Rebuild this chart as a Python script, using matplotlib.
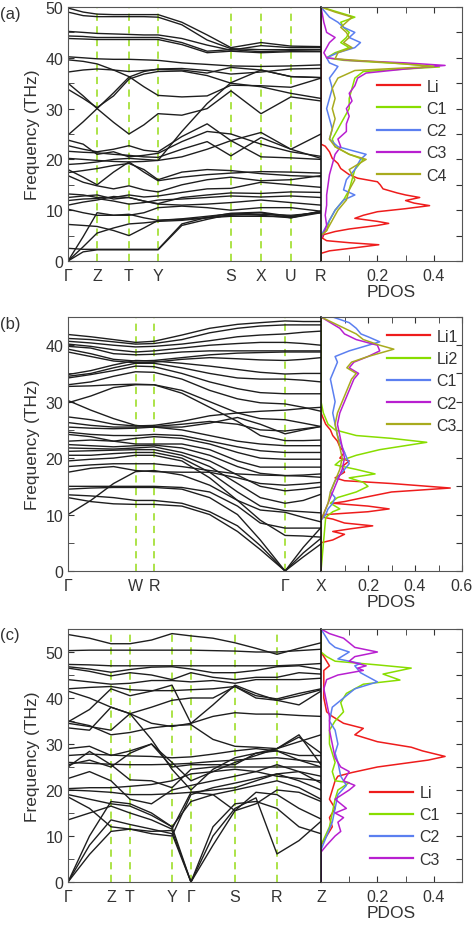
import matplotlib
matplotlib.use('Agg')
import matplotlib.pyplot as plt
from matplotlib.ticker import MultipleLocator

plt.rcParams['font.family'] = ['Liberation Sans', 'DejaVu Sans']

# ---------------- panel (a) ----------------
k_a = [0, 0.6, 1.15, 1.8, 2.41, 3.0, 3.56, 4.5, 5.5, 6.44, 7.63, 8.81, 10]
sym_pos_a = [0, 1.15, 2.41, 3.56, 6.44, 7.63, 8.81, 10]
sym_lab_a = ['Γ', 'Z', 'T', 'Y', 'S', 'X', 'U', 'R']
bands_a = [
    [49.8, 49.0, 48.6, 48.5, 48.5, 48.5, 48.5, 47.0, 44.5, 42.0, 43.0, 42.3, 42.2],
    [49.0, 48.3, 48.1, 48.1, 48.1, 48.1, 48.0, 46.5, 43.5, 41.8, 41.6, 41.6, 41.6],
    [45.2, 45.0, 44.8, 44.7, 44.6, 44.5, 44.5, 43.8, 42.5, 41.5, 42.4, 42.0, 42.0],
    [44.3, 44.2, 44.0, 44.0, 44.0, 44.0, 44.0, 43.0, 41.3, 41.6, 41.2, 41.4, 41.3],
    [43.8, 43.7, 43.6, 43.6, 43.6, 43.6, 43.6, 42.6, 41.0, 41.3, 41.0, 41.2, 41.2],
    [40.2, 40.0, 39.8, 39.7, 39.7, 39.6, 39.5, 39.0, 38.7, 38.4, 38.3, 38.4, 38.6],
    [39.6, 39.3, 38.8, 37.6, 36.3, 34.3, 32.6, 32.3, 32.5, 34.6, 34.5, 34.2, 36.0],
    [37.2, 37.6, 37.8, 37.6, 37.3, 37.5, 37.7, 37.6, 37.0, 38.1, 37.6, 36.3, 36.1],
    [24.8, 27.4, 30.0, 33.1, 36.2, 37.3, 37.8, 37.9, 37.5, 36.8, 37.2, 37.8, 37.9],
    [35.0, 32.5, 30.0, 27.3, 25.0, 26.8, 29.0, 28.7, 30.0, 33.5, 29.0, 32.3, 31.5],
    [33.8, 32.0, 30.2, 32.5, 35.8, 36.8, 37.3, 37.4, 36.5, 35.0, 34.3, 33.0, 32.0],
    [23.8, 23.0, 21.0, 21.5, 20.5, 20.8, 21.2, 23.5, 25.5, 25.0, 23.0, 21.5, 20.6],
    [22.7, 22.0, 21.5, 22.0, 22.7, 21.8, 21.5, 24.5, 27.0, 23.7, 20.5, 20.3, 20.0],
    [21.6, 21.4, 21.3, 21.0, 20.8, 20.5, 20.4, 22.0, 23.5, 20.7, 24.3, 22.0, 20.2],
    [20.2, 20.0, 19.8, 19.6, 19.5, 19.6, 19.8, 20.5, 22.0, 23.7, 25.3, 22.0, 25.0],
    [19.0, 19.2, 19.5, 20.0, 20.2, 20.0, 19.8, 25.5, 31.0, 35.1, 37.6, 36.3, 36.1],
    [18.0, 16.5, 15.0, 17.5, 19.5, 17.5, 15.8, 16.5, 17.0, 17.3, 17.6, 17.5, 17.3],
    [17.4, 17.8, 18.2, 18.8, 19.2, 18.0, 16.0, 17.5, 18.0, 17.8, 17.2, 16.8, 16.6],
    [16.8, 15.5, 14.8, 14.2, 14.8, 14.0, 13.6, 15.0, 16.0, 16.5, 15.8, 16.0, 16.8],
    [13.2, 13.0, 12.5, 12.5, 13.0, 12.6, 12.8, 13.5, 14.2, 14.3, 15.5, 15.0, 14.5],
    [12.5, 12.8, 13.0, 12.2, 12.5, 11.8, 11.3, 12.5, 13.0, 13.4, 13.3, 13.6, 13.5],
    [11.9, 12.2, 12.3, 11.8, 11.2, 11.5, 12.0, 12.2, 12.5, 12.8, 12.6, 12.8, 12.5],
    [11.0, 11.6, 12.0, 12.7, 12.5, 11.8, 11.2, 11.0, 11.2, 11.5, 12.0, 11.5, 11.0],
    [10.2, 9.5, 9.0, 9.0, 9.0, 9.5, 10.5, 10.8, 10.5, 10.0, 10.5, 10.5, 9.8],
    [7.2, 7.0, 6.8, 6.0, 5.0, 6.5, 8.0, 8.2, 8.5, 8.8, 8.8, 8.7, 9.8],
    [0.0, 4.8, 9.5, 9.0, 9.2, 8.5, 8.0, 8.3, 8.8, 9.3, 9.0, 8.5, 9.8],
    [0.0, 2.8, 5.5, 6.5, 7.3, 7.5, 7.8, 8.0, 8.5, 9.0, 9.2, 9.0, 9.5],
    [0.0, 1.8, 2.2, 2.2, 2.2, 2.2, 2.2, 7.0, 8.2, 9.2, 9.5, 8.5, 9.5],
    [2.5, 2.3, 2.3, 2.3, 2.3, 2.3, 2.3, 7.3, 8.6, 9.4, 9.6, 8.8, 9.7],
]

li_a_f = [0, 1.5, 2.0, 2.6, 3.2, 3.6, 4.0, 4.5, 5.2, 5.8, 6.3, 7.0, 7.4, 7.8, 8.4, 9.0, 9.7, 10.3,
          10.9, 11.4, 11.9, 12.5, 13.0, 13.4, 14.2, 15.0, 15.6, 16.3, 17.0, 18.2, 19.2, 20.2,
          21.5, 22.6, 23.0, 50]
li_a_d = [0, 0, 0.03, 0.12, 0.205, 0.1, 0.02, 0.005, 0.01, 0.05, 0.1, 0.2, 0.24, 0.2, 0.12, 0.15,
          0.2, 0.3, 0.385, 0.33, 0.3, 0.35, 0.3, 0.27, 0.22, 0.21, 0.2, 0.13, 0.1, 0.07, 0.06,
          0.04, 0.03, 0.015, 0, 0]
c1_a_f = [0, 5, 6, 8, 10, 12, 14, 16, 18, 20, 21, 22.5, 24, 26, 28, 30, 32, 34, 36, 37.3,
          38.2, 38.8, 39.5, 40, 41, 42, 43, 44, 45, 46, 47, 48, 49, 50]
c1_a_d = [0, 0, 0.02, 0.03, 0.05, 0.08, 0.1, 0.11, 0.12, 0.15, 0.1, 0.05, 0.04, 0.06, 0.08,
          0.1, 0.1, 0.11, 0.12, 0.15, 0.42, 0.3, 0.08, 0.02, 0.05, 0.1, 0.07, 0.09, 0.1, 0.08,
          0.07, 0.12, 0.06, 0]
c2_a_f = [0, 5, 6, 8, 10, 12, 13, 14, 16, 18, 20, 21, 22.5, 24, 26, 28, 30, 32, 34, 36, 37.5,
          38.3, 39, 40, 41, 42, 43, 44, 45, 46, 47, 48, 50]
c2_a_d = [0, 0, 0.01, 0.03, 0.05, 0.08, 0.12, 0.08, 0.09, 0.12, 0.14, 0.16, 0.06, 0.03, 0.04,
          0.03, 0.02, 0.03, 0.04, 0.03, 0.05, 0.06, 0.03, 0.02, 0.06, 0.12, 0.14, 0.1, 0.12,
          0.08, 0.06, 0.03, 0]
c3_a_f = [0, 4.5, 5.5, 7, 9, 11, 13, 15, 17, 19, 21, 22.5, 24, 25.5, 27, 28.5, 30, 31.5, 33,
          34.5, 36, 37, 37.8, 38.5, 39, 39.5, 40, 41, 43, 44, 45, 47, 50]
c3_a_d = [0, 0, 0.01, 0.02, 0.015, 0.02, 0.02, 0.025, 0.03, 0.04, 0.05, 0.07, 0.06, 0.09, 0.09,
          0.1, 0.09, 0.11, 0.1, 0.12, 0.13, 0.16, 0.3, 0.44, 0.3, 0.1, 0.02, 0.01, 0.03, 0.05,
          0.02, 0.01, 0]
c4_a_f = [0, 5, 6, 8, 10, 12, 14, 16, 18, 19, 20, 21, 22.5, 24, 26, 28, 30, 32, 34, 36, 37.5,
          38.3, 39, 39.8, 41, 42, 43, 44, 45, 46, 47, 48, 49, 50]
c4_a_d = [0, 0, 0.02, 0.04, 0.06, 0.09, 0.1, 0.12, 0.1, 0.13, 0.16, 0.1, 0.05, 0.03, 0.04, 0.05,
          0.04, 0.05, 0.04, 0.06, 0.12, 0.4, 0.25, 0.05, 0.06, 0.11, 0.08, 0.1, 0.09, 0.07,
          0.09, 0.11, 0.05, 0]

# ---------------- panel (b) ----------------
k_b = [0, 0.09, 0.18, 0.267, 0.34, 0.45, 0.56, 0.67, 0.76, 0.858, 0.93, 1.0]
sym_pos_b = [0, 0.267, 0.34, 0.858, 1.0]
sym_lab_b = ['Γ', 'W', 'R', 'Γ', 'X']
bands_b = [
    [41.9, 41.5, 41.0, 40.5, 40.7, 41.8, 43.0, 43.7, 44.0, 44.3, 44.2, 44.2],
    [41.2, 41.0, 40.6, 40.2, 40.3, 41.0, 42.2, 43.0, 43.4, 43.6, 43.6, 43.6],
    [40.7, 40.4, 40.0, 39.7, 39.8, 40.2, 40.8, 41.5, 41.8, 42.0, 42.3, 42.5],
    [40.2, 39.8, 39.2, 38.8, 39.0, 39.5, 40.0, 40.3, 40.5, 40.5, 40.3, 40.0],
    [39.8, 39.5, 38.5, 38.3, 38.4, 38.8, 39.0, 39.0, 39.0, 39.0, 39.0, 39.0],
    [39.3, 38.5, 37.5, 37.2, 37.3, 37.8, 38.3, 38.6, 38.7, 38.8, 38.8, 38.8],
    [38.8, 38.0, 37.2, 36.9, 37.0, 37.5, 37.8, 37.6, 37.4, 37.3, 37.5, 37.8],
    [34.8, 35.5, 36.5, 37.3, 37.2, 36.8, 36.3, 35.7, 35.2, 34.9, 35.0, 35.0],
    [34.5, 35.0, 36.0, 36.8, 36.8, 36.0, 35.0, 34.2, 34.0, 34.0, 33.8, 33.5],
    [34.2, 34.8, 35.5, 36.3, 36.2, 35.0, 33.5, 32.3, 31.6, 31.4, 31.4, 31.4],
    [33.0, 33.5, 34.5, 35.3, 35.2, 34.0, 32.0, 30.5, 29.8, 29.6, 29.0, 28.3],
    [32.7, 32.8, 33.0, 33.1, 33.0, 32.0, 30.0, 28.0, 27.0, 26.8, 26.2, 25.6],
    [29.8, 31.0, 32.5, 33.0, 33.0, 31.5, 29.0, 26.5, 24.0, 23.1, 23.1, 23.2],
    [30.2, 28.5, 27.0, 25.8, 25.5, 25.5, 26.2, 27.2, 26.0, 24.3, 25.0, 25.6],
    [27.3, 26.8, 26.0, 25.7, 25.8, 26.5, 27.5, 28.0, 28.3, 28.5, 28.8, 29.0],
    [26.3, 25.8, 25.5, 25.5, 25.6, 26.0, 26.5, 26.0, 25.0, 24.8, 25.2, 25.6],
    [25.5, 25.3, 25.2, 25.3, 25.5, 25.0, 24.0, 23.0, 22.5, 22.2, 22.2, 22.2],
    [24.6, 24.2, 24.0, 24.0, 24.2, 24.0, 23.0, 22.0, 21.3, 21.0, 21.0, 21.0],
    [24.2, 23.8, 23.0, 23.5, 23.8, 23.5, 22.5, 21.0, 20.0, 19.8, 19.8, 19.8],
    [23.0, 23.2, 23.0, 22.5, 22.5, 22.5, 21.5, 19.5, 18.4, 18.4, 18.4, 18.4],
    [22.4, 22.2, 22.0, 22.2, 22.3, 21.8, 20.5, 18.5, 17.3, 16.9, 17.0, 17.2],
    [21.8, 21.7, 21.6, 21.8, 22.0, 21.0, 19.5, 17.0, 15.0, 14.2, 14.5, 14.9],
    [21.2, 21.3, 21.4, 21.5, 21.5, 20.5, 18.5, 15.5, 13.0, 12.0, 12.5, 13.6],
    [20.5, 20.5, 20.8, 21.0, 21.0, 20.0, 17.5, 14.0, 11.5, 10.7, 10.5, 10.3],
    [19.5, 19.8, 20.0, 20.5, 20.5, 19.5, 16.5, 12.5, 9.0, 6.3, 6.2, 6.0],
    [18.5, 18.8, 19.0, 19.0, 19.0, 18.5, 17.8, 17.2, 17.0, 16.9, 16.8, 16.6],
    [17.5, 18.2, 18.5, 17.8, 17.6, 17.5, 17.5, 16.5, 15.5, 15.2, 15.4, 15.7],
    [10.0, 12.5, 15.5, 17.6, 17.8, 17.0, 15.2, 12.5, 10.8, 10.4, 9.5, 8.7],
    [15.0, 15.0, 15.0, 15.0, 15.0, 14.8, 14.0, 11.5, 8.5, 7.6, 7.6, 7.6],
    [14.5, 14.7, 14.8, 14.8, 14.8, 14.5, 13.0, 10.0, 5.5, 0.0, 2.5, 4.8],
    [13.5, 13.3, 13.0, 12.5, 12.5, 12.0, 10.5, 8.0, 4.5, 0.0, 3.2, 5.8],
    [13.0, 12.3, 11.9, 11.8, 11.8, 11.5, 10.0, 7.0, 3.8, 0.0, 4.2, 7.7],
]

li1_b_f = [0, 5, 5.5, 6.5, 7, 7.5, 8, 8.5, 9.2, 9.6, 10, 10.5, 11, 11.5, 12, 12.3, 13, 14, 14.7,
           15.5, 16, 16.5, 17.5, 18.5, 19.5, 20, 21, 22, 23, 24, 25, 26, 27, 28, 45]
li1_b_d = [0, 0, 0.05, 0.1, 0.05, 0.13, 0.22, 0.1, 0.05, 0.0, 0.02, 0.2, 0.29, 0.2, 0.05, 0.1,
           0.18, 0.3, 0.55, 0.3, 0.1, 0.06, 0.1, 0.09, 0.12, 0.08, 0.1, 0.08, 0.07, 0.05, 0.04,
           0.02, 0.01, 0, 0]
li2_b_f = [0, 9.5, 10.5, 11, 12, 13, 14, 15, 15.7, 16.5, 17.2, 18, 18.8, 19.5, 20.5, 21.5, 22.8,
           23.5, 24, 25, 26, 28, 30, 45]
li2_b_d = [0, 0.02, 0.05, 0.08, 0.04, 0.07, 0.15, 0.2, 0.18, 0.12, 0.23, 0.15, 0.06, 0.08, 0.15,
           0.25, 0.45, 0.3, 0.15, 0.06, 0.03, 0.01, 0, 0]
c1_b_f = [0, 9, 10, 11, 12, 13, 14, 15, 16, 17, 18, 19, 20, 21, 22, 24, 26, 28, 30, 32, 34, 36,
          37, 38, 39, 40.6, 41.5, 42, 43, 44, 45]
c1_b_d = [0, 0, 0.02, 0.03, 0.05, 0.06, 0.04, 0.05, 0.06, 0.08, 0.1, 0.12, 0.11, 0.1, 0.09,
          0.07, 0.06, 0.05, 0.06, 0.05, 0.04, 0.06, 0.07, 0.06, 0.12, 0.25, 0.2, 0.17, 0.15,
          0.12, 0.05]
c2_b_f = [0, 9, 10, 12, 14, 16, 18, 20, 22, 24, 26, 28, 30, 32, 34, 35, 36, 37, 38, 39, 40, 41,
          42, 43, 44, 45]
c2_b_d = [0, 0, 0.01, 0.03, 0.05, 0.07, 0.09, 0.1, 0.09, 0.08, 0.07, 0.08, 0.1, 0.12, 0.14,
          0.16, 0.12, 0.14, 0.2, 0.25, 0.24, 0.15, 0.1, 0.08, 0.04, 0]
c3_b_f = [0, 9, 10, 12, 14, 16, 18, 20, 22, 24, 26, 28, 30, 32, 34, 35, 36, 37, 38, 39.3, 40,
          41, 42, 43, 44, 45]
c3_b_d = [0, 0, 0.01, 0.03, 0.04, 0.06, 0.08, 0.09, 0.08, 0.07, 0.06, 0.07, 0.09, 0.11, 0.13,
          0.15, 0.11, 0.13, 0.2, 0.31, 0.25, 0.18, 0.15, 0.1, 0.05, 0]

# ---------------- panel (c) ----------------
k_c = [0, 0.085, 0.17, 0.245, 0.33, 0.411, 0.486, 0.573, 0.66, 0.743, 0.826, 0.913, 1.0]
sym_pos_c = [0, 0.17, 0.245, 0.411, 0.486, 0.66, 0.826, 1.0]
sym_lab_c = ['Γ', 'Z', 'T', 'Y', 'Γ', 'S', 'R', 'Z']
bands_c = [
    [53.8, 53.0, 51.8, 51.8, 52.6, 54.0, 53.5, 53.0, 52.0, 50.8, 49.5, 50.8, 52.0],
    [50.3, 50.4, 50.4, 50.4, 50.4, 50.4, 50.4, 50.3, 50.2, 50.0, 50.0, 50.3, 50.6],
    [47.3, 47.2, 47.0, 47.0, 47.0, 47.0, 47.0, 47.0, 47.0, 47.0, 47.0, 47.2, 47.5],
    [46.8, 46.3, 45.6, 46.2, 46.7, 46.8, 46.3, 45.5, 45.5, 46.0, 46.8, 47.0, 46.2],
    [46.5, 45.8, 44.8, 45.5, 45.0, 44.0, 45.5, 44.5, 44.0, 44.5, 44.5, 45.5, 45.2],
    [44.0, 43.5, 43.0, 43.2, 43.8, 43.8, 43.5, 43.8, 43.2, 44.0, 44.0, 44.0, 44.3],
    [42.0, 42.3, 42.5, 41.8, 41.6, 41.6, 41.8, 42.0, 42.5, 40.5, 39.8, 41.0, 42.0],
    [41.5, 40.0, 38.0, 36.6, 38.0, 39.5, 40.0, 40.0, 42.5, 40.0, 39.5, 40.5, 41.8],
    [34.8, 37.5, 42.0, 40.5, 41.5, 42.8, 34.5, 38.5, 42.8, 41.0, 39.5, 38.5, 41.5],
    [34.5, 33.8, 33.0, 36.6, 34.5, 33.8, 34.5, 36.0, 36.8, 36.5, 36.5, 36.2, 36.0],
    [35.0, 34.0, 32.0, 32.5, 33.5, 34.0, 34.2, 31.0, 29.5, 29.3, 29.0, 30.5, 32.0],
    [33.5, 33.0, 38.0, 36.6, 31.0, 24.5, 20.0, 24.5, 27.0, 28.0, 28.5, 26.5, 25.0],
    [29.0, 29.5, 27.5, 28.5, 30.0, 25.0, 25.5, 25.5, 25.5, 28.0, 29.0, 31.5, 28.0],
    [27.5, 27.8, 27.6, 27.4, 27.3, 27.0, 27.2, 27.8, 28.5, 29.0, 28.5, 27.5, 27.5],
    [26.0, 25.8, 25.6, 25.5, 25.5, 25.6, 25.8, 26.2, 26.5, 26.8, 27.0, 26.5, 26.0],
    [25.0, 28.4, 25.5, 22.2, 22.0, 20.5, 24.5, 25.0, 25.0, 25.0, 25.0, 25.0, 25.0],
    [25.5, 26.5, 25.0, 28.0, 30.0, 26.0, 22.0, 24.0, 26.0, 27.5, 29.0, 32.0, 25.5],
    [22.5, 24.0, 22.0, 18.0, 17.0, 20.0, 21.0, 22.0, 23.0, 24.0, 25.5, 24.0, 21.5],
    [20.3, 20.5, 20.5, 20.8, 21.2, 22.0, 23.5, 24.0, 24.5, 24.0, 23.0, 22.5, 22.0],
    [20.0, 19.8, 19.5, 19.0, 19.0, 19.2, 19.5, 20.0, 20.5, 22.0, 23.5, 22.0, 20.0],
    [19.0, 18.0, 17.0, 16.5, 14.5, 12.0, 17.5, 19.0, 20.0, 21.0, 22.0, 20.5, 18.0],
    [18.5, 16.0, 12.0, 11.5, 10.5, 10.0, 19.0, 20.5, 21.5, 22.5, 23.5, 24.0, 23.0],
    [13.5, 15.0, 16.5, 15.0, 13.5, 11.5, 19.5, 19.0, 15.5, 17.0, 20.0, 19.5, 17.5],
    [0.0, 10.0, 17.5, 17.0, 15.0, 12.0, 0.0, 8.0, 15.5, 19.5, 19.0, 16.0, 13.7],
    [0.0, 8.0, 13.5, 12.5, 11.5, 10.5, 0.0, 10.0, 16.0, 18.3, 6.1, 9.0, 13.2],
    [0.0, 6.0, 11.0, 11.5, 11.0, 11.2, 0.0, 12.0, 17.0, 17.5, 16.0, 12.0, 10.5],
]

li_c_f = [0, 8, 10, 12, 14, 16, 18, 20, 22, 23, 23.8, 25, 26.5, 27.3, 28.5, 29.3, 30.5, 32, 33.4,
          34.5, 36, 37, 40, 46, 47, 48, 50, 55]
li_c_d = [0, 0, 0.02, 0.04, 0.03, 0.05, 0.03, 0.04, 0.05, 0.06, 0.11, 0.2, 0.38, 0.44, 0.36,
          0.32, 0.2, 0.12, 0.15, 0.08, 0.04, 0.02, 0.01, 0.01, 0.03, 0.02, 0, 0]
c1_c_f = [0, 8, 12, 15, 18, 20, 21.6, 22, 24, 26, 28, 30, 33, 35, 37, 39, 41, 43, 43.9, 45.2,
          46.5, 47.2, 48, 49, 50, 55]
c1_c_d = [0, 0, 0.03, 0.04, 0.05, 0.06, 0.1, 0.05, 0.04, 0.05, 0.04, 0.03, 0.03, 0.05, 0.08,
          0.07, 0.09, 0.15, 0.28, 0.22, 0.32, 0.2, 0.05, 0.02, 0, 0]
c2_c_f = [0, 7, 10, 13, 16, 19, 21, 23, 26, 28, 30, 33, 35, 38, 40, 42, 43.5, 45.5, 47, 47.5,
          48.5, 50, 51, 52, 54, 55]
c2_c_d = [0, 0, 0.02, 0.04, 0.05, 0.06, 0.09, 0.07, 0.06, 0.05, 0.06, 0.05, 0.03, 0.04, 0.08,
          0.12, 0.2, 0.14, 0.12, 0.14, 0.06, 0.1, 0.05, 0.03, 0.01, 0]
c3_c_f = [0, 6.5, 8, 10, 11, 13, 14, 15, 16, 18, 20, 21, 22, 24, 25, 27, 30, 33, 36, 39, 42, 44,
          45, 46, 46.5, 47, 48, 49, 50, 51, 52, 53, 54, 55]
c3_c_d = [0, 0, 0.02, 0.05, 0.07, 0.06, 0.08, 0.05, 0.09, 0.05, 0.1, 0.12, 0.08, 0.1, 0.07, 0.05,
          0.04, 0.03, 0.03, 0.02, 0.01, 0.02, 0.06, 0.15, 0.13, 0.16, 0.1, 0.12, 0.2, 0.12, 0.1,
          0.08, 0.03, 0]

RED, GREEN, BLUE, PURPLE, OLIVE = '#ee1c1c', '#88dd00', '#5b7ff0', '#b81fd0', '#a8ab1e'
DASH = '#a6e03a'
BAND = '#1e1e1e'

W, H = 474, 928
fig = plt.figure(figsize=(W / 100, H / 100), dpi=100)


def rect(x0, x1, ytop, ybot):
    return [x0 / W, 1 - ybot / H, (x1 - x0) / W, (ybot - ytop) / H]


def panel(ytop, ybot, kpts, bands, sym_pos, sym_lab, ymax, pdos, pdos_max,
          pdos_labels, leg_anchor, tag):
    ax = fig.add_axes(rect(68, 321, ytop, ybot))
    ax2 = fig.add_axes(rect(321, 462, ytop, ybot))
    for b in bands:
        ax.plot(kpts, b, color=BAND, lw=1.0, solid_joinstyle='round')
    for p in sym_pos[1:-1]:
        ax.axvline(p, color=DASH, lw=1.3, ls=(0, (4, 3)), zorder=0)
    ax.set_xlim(sym_pos[0], sym_pos[-1])
    ax.set_ylim(0, ymax)
    ax.set_xticks(sym_pos)
    ax.set_xticklabels(sym_lab)
    ax.yaxis.set_major_locator(MultipleLocator(10))
    ax.yaxis.set_minor_locator(MultipleLocator(5))
    ax.tick_params(axis='x', length=0, labelsize=11.5, colors='#333333', pad=5)
    ax.tick_params(axis='y', which='both', direction='in', length=4, labelsize=11.5,
                   colors='#333333', right=False)
    ax.set_ylabel('Frequency (THz)', fontsize=12.5, color='#333333', labelpad=4)
    for s in ax.spines.values():
        s.set_color('#555555')

    for (f, d, c, lab) in pdos:
        ax2.plot(d, f, color=c, lw=1.1, label=lab)
    ax2.set_ylim(0, ymax)
    ax2.set_xlim(0, pdos_max)
    ax2.set_xticks(pdos_labels)
    ax2.set_xticklabels(['%.1f' % v for v in pdos_labels])
    ax2.xaxis.set_minor_locator(MultipleLocator(0.1))
    ax2.yaxis.set_major_locator(MultipleLocator(5))
    ax2.tick_params(axis='x', which='both', direction='in', top=True, length=4,
                    labelsize=11.5, colors='#333333', pad=5)
    ax2.tick_params(axis='y', which='both', direction='in', left=False, right=True,
                    labelleft=False, length=4, colors='#333333')
    ax2.set_xlabel('PDOS', fontsize=12.5, color='#333333', labelpad=1)
    for s in ax2.spines.values():
        s.set_color('#555555')
    ax2.spines['left'].set_color('#111111')
    ax2.spines['left'].set_linewidth(1.2)
    leg = ax2.legend(loc='upper left', bbox_to_anchor=leg_anchor, frameon=False,
                     fontsize=11.5, handlelength=2.7, handletextpad=0.4,
                     labelspacing=0.45, borderpad=0, borderaxespad=0)
    for t in leg.get_texts():
        t.set_color('#333333')
    for h in leg.legend_handles:
        h.set_linewidth(1.6)
    fig.text(0.0, 1 - (ytop + 6) / H, tag, fontsize=12, color='#333333',
             ha='left', va='center')


panel(8, 262, k_a, bands_a, sym_pos_a, sym_lab_a, 50,
      [(li_a_f, li_a_d, RED, 'Li'), (c1_a_f, c1_a_d, GREEN, 'C1'),
       (c2_a_f, c2_a_d, BLUE, 'C2'), (c3_a_f, c3_a_d, PURPLE, 'C3'),
       (c4_a_f, c4_a_d, OLIVE, 'C4')],
      0.5, [0.2, 0.4], (0.397, 0.717), '(a)')

panel(318, 572, k_b, bands_b, sym_pos_b, sym_lab_b, 45,
      [(li1_b_f, li1_b_d, RED, 'Li1'), (li2_b_f, li2_b_d, GREEN, 'Li2'),
       (c1_b_f, c1_b_d, BLUE, 'C1'), (c2_b_f, c2_b_d, PURPLE, 'C2'),
       (c3_b_f, c3_b_d, OLIVE, 'C3')],
      0.6, [0.2, 0.4, 0.6], (0.468, 0.953), '(b)')

panel(630, 883, k_c, bands_c, sym_pos_c, sym_lab_c, 55,
      [(li_c_f, li_c_d, RED, 'Li'), (c1_c_f, c1_c_d, GREEN, 'C1'),
       (c2_c_f, c2_c_d, BLUE, 'C2'), (c3_c_f, c3_c_d, PURPLE, 'C3')],
      0.5, [0.2, 0.4], (0.348, 0.383), '(c)')

fig.savefig('out.png', dpi=100)
